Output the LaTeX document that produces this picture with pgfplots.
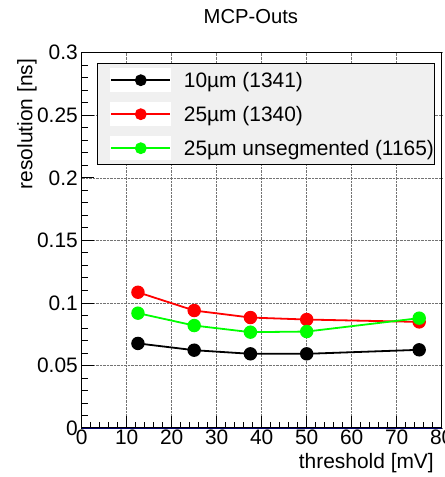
\documentclass[border=0pt]{standalone}
\usepackage{pgfplots}
\pgfplotsset{compat=1.18}
\usepackage{fontspec}
\setmainfont{Liberation Sans}
\definecolor{rootgreen}{rgb}{0,1,0}
\definecolor{rootred}{rgb}{1,0,0}
\definecolor{legfill}{rgb}{0.94,0.94,0.94}
\begin{document}
\begin{tikzpicture}
\useasboundingbox (-81.7bp,-49bp) rectangle (363.3bp,428bp);
\begin{axis}[
  at={(0,0)}, anchor=south west,
  scale only axis, width=360bp, height=375.3bp,
  xmin=0, xmax=80, ymin=0, ymax=0.3,
  xtick={0,10,...,80}, minor x tick num=4,
  ytick={0,0.05,0.1,0.15,0.2,0.25,0.3}, minor y tick num=4,
  yticklabels={0,0.05,0.1,0.15,0.2,0.25,0.3},
  tick align=inside, xtick pos=bottom, ytick pos=left,
  major tick length=12bp, minor tick length=6bp,
  every tick/.style={black, line width=0.8bp},
  grid=major, grid style={densely dotted, black!55, line width=0.6bp},
  axis line style={line width=1.5bp},
  /pgf/number format/assume math mode=true,
  tick label style={font=\fontsize{21}{23}\selectfont},
  yticklabel style={inner xsep=0pt, xshift=-3.7bp},
  xticklabel style={inner ysep=1.5bp},
  scaled y ticks=false,
  xlabel={threshold [mV]},
  ylabel={resolution [ns]},
  xlabel style={font=\fontsize{21}{23}\selectfont, at={(axis description cs:0.9786,-0.0666)}, anchor=north east, inner sep=0pt},
  ylabel style={font=\fontsize{21}{23}\selectfont, at={(axis description cs:-0.180,0.984)}, anchor=north east, inner sep=0pt},
  title={MCP-Outs},
  title style={font=\fontsize{20.3}{22}\selectfont, at={(axis description cs:0.470,1.063)}, anchor=base, inner sep=0pt},
  legend cell align=left,
  legend style={at={(axis description cs:0.0433,0.972)}, anchor=north west,
    fill=legfill, draw=black, line width=0.8bp,
    inner xsep=0pt, inner ysep=4.7bp, row sep=10.2bp, column sep=12.7bp,
    nodes={inner sep=0pt}, font=\fontsize{21}{23}\selectfont},
  legend image code/.code={
    \path (0bp,0bp);
    \fill[white] (12.7bp,-11bp) rectangle (71.7bp,11bp);
    \draw[mark repeat=2, mark phase=2, #1, mark size=5bp] plot coordinates {(12.7bp,0bp) (42.2bp,0bp) (71.7bp,0bp)};
  },
]
\addplot[black, line width=1.8bp, mark=*, mark size=5.8bp, mark options={solid}] coordinates {
  (12.5,0.0676) (25,0.0622) (37.5,0.0593) (50,0.0593) (75,0.0625)};
\addlegendentry{10µm (1341)}
\addplot[rootred, line width=1.8bp, mark=*, mark size=5.8bp, mark options={solid}] coordinates {
  (12.5,0.1085) (25,0.0939) (37.5,0.0883) (50,0.0867) (75,0.0848)};
\addlegendentry{25µm (1340)}
\addplot[rootgreen, line width=1.8bp, mark=*, mark size=5.8bp, mark options={solid}] coordinates {
  (12.5,0.0918) (25,0.0819) (37.5,0.0766) (50,0.0771) (75,0.0878)};
\addlegendentry{25µm unsegmented (1165)}
\draw[color={rgb,255:red,0;green,0;blue,110}, line width=1bp] (rel axis cs:0,0) -- (rel axis cs:1,0);
\end{axis}
\end{tikzpicture}
\end{document}
